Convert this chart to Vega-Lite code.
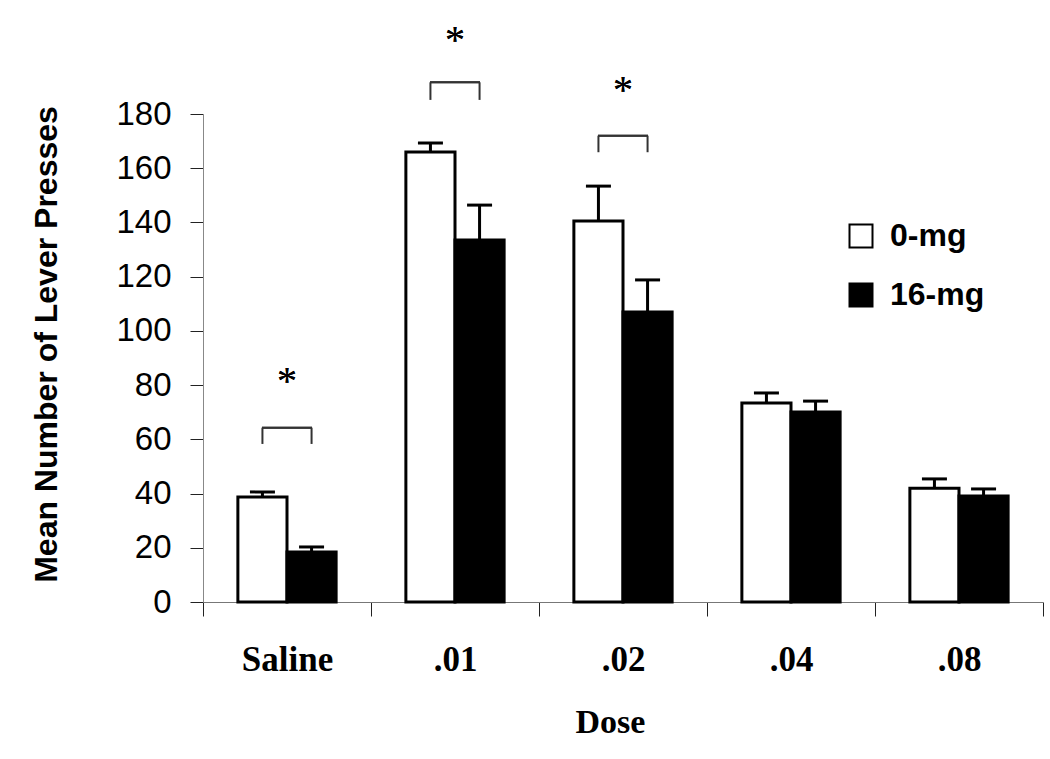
{
  "$schema": "https://vega.github.io/schema/vega-lite/v6.json",
  "width": 840,
  "height": 488,
  "autosize": {"type": "none"},
  "padding": {"left": 203, "top": 114, "right": 7, "bottom": 157},
  "background": "white",
  "config": {
    "view": {"stroke": null},
    "axis": {"grid": false}
  },
  "datasets": {
    "bars": [
      {"dose": "Saline", "group": "0-mg", "mean": 38.7, "err": 40.6},
      {"dose": "Saline", "group": "16-mg", "mean": 18.4, "err": 20.3},
      {"dose": ".01", "group": "0-mg", "mean": 166, "err": 169.3},
      {"dose": ".01", "group": "16-mg", "mean": 133.5, "err": 146.4},
      {"dose": ".02", "group": "0-mg", "mean": 140.5, "err": 153.4},
      {"dose": ".02", "group": "16-mg", "mean": 107, "err": 118.8},
      {"dose": ".04", "group": "0-mg", "mean": 73.4, "err": 77.1},
      {"dose": ".04", "group": "16-mg", "mean": 70.1, "err": 74.1},
      {"dose": ".08", "group": "0-mg", "mean": 42, "err": 45.4},
      {"dose": ".08", "group": "16-mg", "mean": 39.1, "err": 41.7}
    ],
    "brackets": [
      {"dose": "Saline", "group": "0-mg", "top": 64.3, "bottom": 58.3, "star": 84},
      {"dose": "Saline", "group": "16-mg", "top": 64.3, "bottom": 58.3, "star": 84},
      {"dose": ".01", "group": "0-mg", "top": 191.7, "bottom": 185.2, "star": 210},
      {"dose": ".01", "group": "16-mg", "top": 191.7, "bottom": 185.2, "star": 210},
      {"dose": ".02", "group": "0-mg", "top": 172, "bottom": 165.9, "star": 191.4},
      {"dose": ".02", "group": "16-mg", "top": 172, "bottom": 165.9, "star": 191.4}
    ]
  },
  "encoding": {
    "x": {
      "field": "dose",
      "type": "nominal",
      "sort": ["Saline", ".01", ".02", ".04", ".08"],
      "scale": {"paddingInner": 0, "paddingOuter": 0},
      "axis": {
        "title": "Dose",
        "labelAngle": 0,
        "tickBand": "extent",
        "tickSize": 14,
        "tickColor": "#222",
        "domainColor": "#777",
        "labelFont": "Liberation Serif",
        "labelFontWeight": "bold",
        "labelFontSize": 35,
        "labelColor": "black",
        "labelPadding": 26,
        "titleFont": "Liberation Serif",
        "titleFontWeight": "bold",
        "titleFontSize": 34,
        "titleColor": "black",
        "titlePadding": 28,
        "titleX": 407
      }
    }
  },
  "layer": [
    {
      "data": {"name": "bars"},
      "mark": {"type": "bar", "stroke": "black", "strokeWidth": 3},
      "encoding": {
        "xOffset": {"field": "group", "type": "nominal", "scale": {"paddingInner": 0, "paddingOuter": 0.71}},
        "y": {
          "field": "mean",
          "type": "quantitative",
          "scale": {"domain": [0, 180], "nice": false},
          "axis": {
            "values": [0, 20, 40, 60, 80, 100, 120, 140, 160, 180],
            "title": "Mean Number of Lever Presses",
            "tickSize": 13,
            "tickColor": "#222",
            "domainColor": "#888",
            "labelFont": "Liberation Sans",
            "labelFontSize": 33,
            "labelColor": "black",
            "labelPadding": 19,
            "titleFont": "Liberation Sans",
            "titleFontWeight": "bold",
            "titleFontSize": 32,
            "titleColor": "black",
            "titlePadding": 52,
            "titleY": 230
          }
        },
        "fill": {
          "field": "group",
          "type": "nominal",
          "scale": {"domain": ["0-mg", "16-mg"], "range": ["white", "black"]},
          "legend": {
            "title": null,
            "orient": "none",
            "legendX": 642,
            "legendY": 106,
            "symbolType": "square",
            "symbolSize": 529,
            "symbolStrokeColor": "black",
            "symbolStrokeWidth": 2,
            "labelFont": "Liberation Sans",
            "labelFontWeight": "bold",
            "labelFontSize": 32,
            "labelColor": "black",
            "labelOffset": 13,
            "rowPadding": 27
          }
        }
      }
    },
    {
      "data": {"name": "bars"},
      "mark": {"type": "rule", "strokeWidth": 3, "color": "black"},
      "encoding": {
        "xOffset": {"field": "group", "type": "nominal"},
        "y": {"field": "mean", "type": "quantitative"},
        "y2": {"field": "err"}
      }
    },
    {
      "data": {"name": "bars"},
      "mark": {"type": "tick", "orient": "horizontal", "size": 25, "thickness": 3, "color": "black", "opacity": 1},
      "encoding": {
        "xOffset": {"field": "group", "type": "nominal"},
        "y": {"field": "err", "type": "quantitative"}
      }
    },
    {
      "data": {"name": "brackets"},
      "mark": {"type": "rule", "strokeWidth": 2, "color": "#333"},
      "encoding": {
        "xOffset": {"field": "group", "type": "nominal"},
        "y": {"field": "top", "type": "quantitative"},
        "y2": {"field": "bottom"}
      }
    },
    {
      "data": {"name": "brackets"},
      "mark": {"type": "tick", "orient": "horizontal", "size": 50, "thickness": 2, "color": "#333", "opacity": 1},
      "encoding": {
        "y": {"field": "top", "type": "quantitative"}
      }
    },
    {
      "data": {"name": "brackets"},
      "mark": {"type": "text", "font": "Liberation Serif", "fontSize": 40, "baseline": "middle", "dy": 8, "color": "black"},
      "encoding": {
        "y": {"field": "star", "type": "quantitative"},
        "text": {"value": "*"}
      }
    }
  ]
}
